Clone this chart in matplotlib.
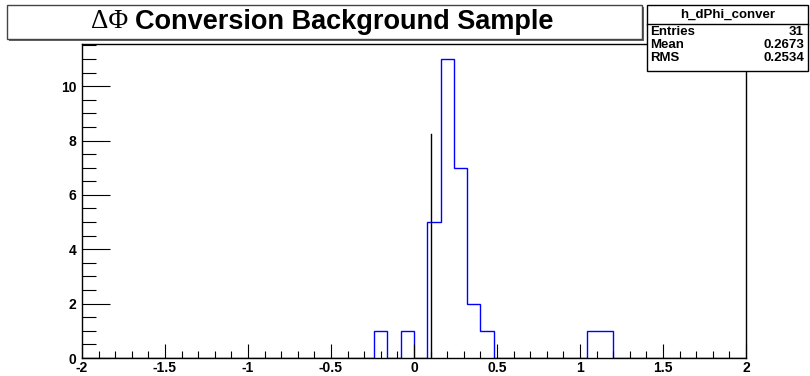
import numpy as np
import matplotlib.pyplot as plt
from matplotlib.patches import Rectangle
from matplotlib.lines import Line2D

# histogram h_dPhi_conver: 50 bins from -2 to 2, only filled bins listed
nbins = 50
xmin, xmax = -2.0, 2.0
bin_low = [-0.24, -0.08, 0.08, 0.16, 0.24, 0.32, 0.40, 1.04, 1.12]
counts = [1, 1, 5, 11, 7, 2, 1, 1, 1]

cut_x = 0.1
cut_h = 8.25

title = "Conversion Background Sample"
stat_name = "h_dPhi_conver"
stat_labels = ["Entries", "Mean", "RMS"]
stat_values = ["31", "0.2673", "0.2534"]

edges = np.linspace(xmin, xmax, nbins + 1)
h = np.zeros(nbins)
for lo, c in zip(bin_low, counts):
    h[int(round((lo - xmin) / (edges[1] - edges[0])))] = c

W, H = 810, 376
fig = plt.figure(figsize=(W / 100, H / 100), dpi=100)
plt.rcParams['font.family'] = ['Liberation Sans', 'DejaVu Sans']
plt.rcParams['font.weight'] = 'bold'

ax = fig.add_axes([82 / W, 1 - 358 / H, (746 - 82) / W, (358 - 44) / H])
ax.stairs(h, edges, color="#0000ff", lw=1.0)
ax.plot([cut_x, cut_x], [0, cut_h], color="black", lw=1.0)

ax.set_xlim(xmin, xmax)
ax.set_ylim(0, max(counts) * 1.05)
ax.set_xticks(np.arange(-2, 2.01, 0.5))
ax.set_xticks(np.arange(-2, 2.01, 0.1), minor=True)
ax.set_yticks(np.arange(0, 11, 2))
ax.set_yticks(np.arange(0, 11.6, 0.5), minor=True)
ax.set_xticklabels(["-2", "-1.5", "-1", "-0.5", "0", "0.5", "1", "1.5", "2"])
ax.tick_params(axis="x", which="major", direction="in", length=10, width=0.8,
               labelsize=10, pad=2, top=False)
ax.tick_params(axis="x", which="minor", direction="in", length=5, width=0.8, top=False)
ax.tick_params(axis="y", which="major", direction="in", length=20, width=0.8,
               labelsize=10, pad=4, right=False)
ax.tick_params(axis="y", which="minor", direction="in", length=10, width=0.8, right=False)
for lab in ax.get_xticklabels() + ax.get_yticklabels():
    lab.set_fontweight("bold")
for s in ax.spines.values():
    s.set_linewidth(1.0)

# title box with a small shadow
fig.patches.append(Rectangle((9 / W, 1 - 41 / H), (642 - 7) / W, 34 / H,
                             transform=fig.transFigure, fill=True, facecolor="#666666",
                             edgecolor="none"))
fig.patches.append(Rectangle((7 / W, 1 - 39 / H), (642 - 7) / W, 34 / H,
                             transform=fig.transFigure, fill=True, facecolor="white",
                             edgecolor="#444444", lw=1.0))
fig.text(128 / W, 1 - 22 / H, "ΔΦ", family="Liberation Serif", fontweight="normal",
         fontsize=19.5, ha="right", va="center")
fig.text(135 / W, 1 - 22 / H, title, fontsize=19.5, fontweight="bold",
         ha="left", va="center")

# stats box
fig.patches.append(Rectangle((647 / W, 1 - 71 / H), (808 - 647) / W, 66 / H,
                             transform=fig.transFigure, fill=True, facecolor="white",
                             edgecolor="black", lw=1.0))
fig.lines.append(Line2D([647 / W, 808 / W], [1 - 24 / H, 1 - 24 / H],
                        transform=fig.transFigure, color="black", lw=1.0))
fig.text(728 / W, 1 - 14.5 / H, stat_name, fontsize=9.5, fontweight="bold",
         ha="center", va="center")
rows_y = [32, 45, 58]
for lab, val, yy in zip(stat_labels, stat_values, rows_y):
    fig.text(650 / W, 1 - yy / H, lab, fontsize=9.5, fontweight="bold", ha="left", va="center")
    fig.text(804 / W, 1 - yy / H, val, fontsize=9.5, fontweight="bold", ha="right", va="center")

fig.savefig("out.png", dpi=100)
